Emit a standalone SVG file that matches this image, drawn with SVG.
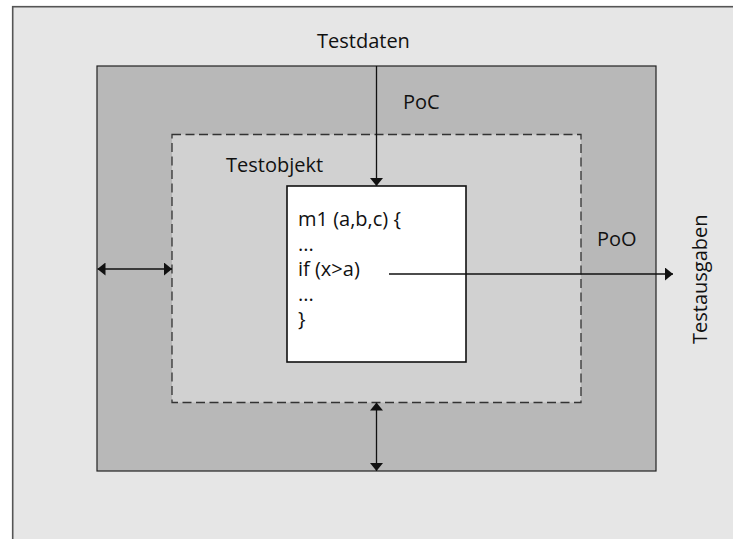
<svg xmlns="http://www.w3.org/2000/svg" width="733" height="539" viewBox="0 0 733 539">
  <style>
    text { font-family: "Open Sans", "Liberation Sans", sans-serif; font-size: 20px; fill: #111; }
    .wire { stroke: #111; stroke-width: 1.3; fill: none; }
  </style>
  <defs>
    <marker id="head" viewBox="0 0 8 13" refX="8" refY="6.5" markerWidth="8" markerHeight="13" markerUnits="userSpaceOnUse" orient="auto-start-reverse">
      <path d="M0,0 L8,6.5 L0,13 z" fill="#111"/>
    </marker>
  </defs>

  <!-- page background -->
  <rect x="0" y="0" width="733" height="539" fill="#ffffff"/>
  <rect id="frame" x="12.7" y="6.7" width="740" height="560" fill="#e6e6e6" stroke="#555" stroke-width="1.6"/>

  <!-- test environment (outer zone) -->
  <g id="environment">
    <rect x="97" y="66" width="559" height="405" fill="#b8b8b8" stroke="#222" stroke-width="1.2"/>
    <text x="403" y="109">PoC</text>
    <text x="597" y="246">PoO</text>
  </g>

  <!-- test object (dashed zone) -->
  <g id="testobjekt">
    <rect x="172" y="134.5" width="409" height="268" fill="#d1d1d1" stroke="#333" stroke-width="1.3" stroke-dasharray="9 4.5"/>
    <text x="226" y="172">Testobjekt</text>
  </g>

  <!-- method under test -->
  <g id="method">
    <rect x="287" y="186" width="179" height="176" fill="#ffffff" stroke="#111" stroke-width="1.6"/>
    <text x="298" y="226">m1 (a,b,c) {</text>
    <text x="298" y="251">...</text>
    <text x="298" y="276">if (x&gt;a)</text>
    <text x="298" y="301">...</text>
    <text x="298" y="326">}</text>
  </g>

  <!-- input / output labels -->
  <g id="testdaten">
    <text x="317" y="48">Testdaten</text>
  </g>
  <g id="testausgaben">
    <text transform="translate(706.5,344) rotate(-90)">Testausgaben</text>
  </g>

  <!-- connectors -->
  <g id="connectors">
    <line class="wire" x1="376.5" y1="66" x2="376.5" y2="186" marker-end="url(#head)"/>
    <line class="wire" x1="389" y1="274" x2="673" y2="274" marker-end="url(#head)"/>
    <line class="wire" x1="97.5" y1="269" x2="172" y2="269" marker-start="url(#head)" marker-end="url(#head)"/>
    <line class="wire" x1="376.5" y1="402.5" x2="376.5" y2="471" marker-start="url(#head)" marker-end="url(#head)"/>
  </g>
</svg>
